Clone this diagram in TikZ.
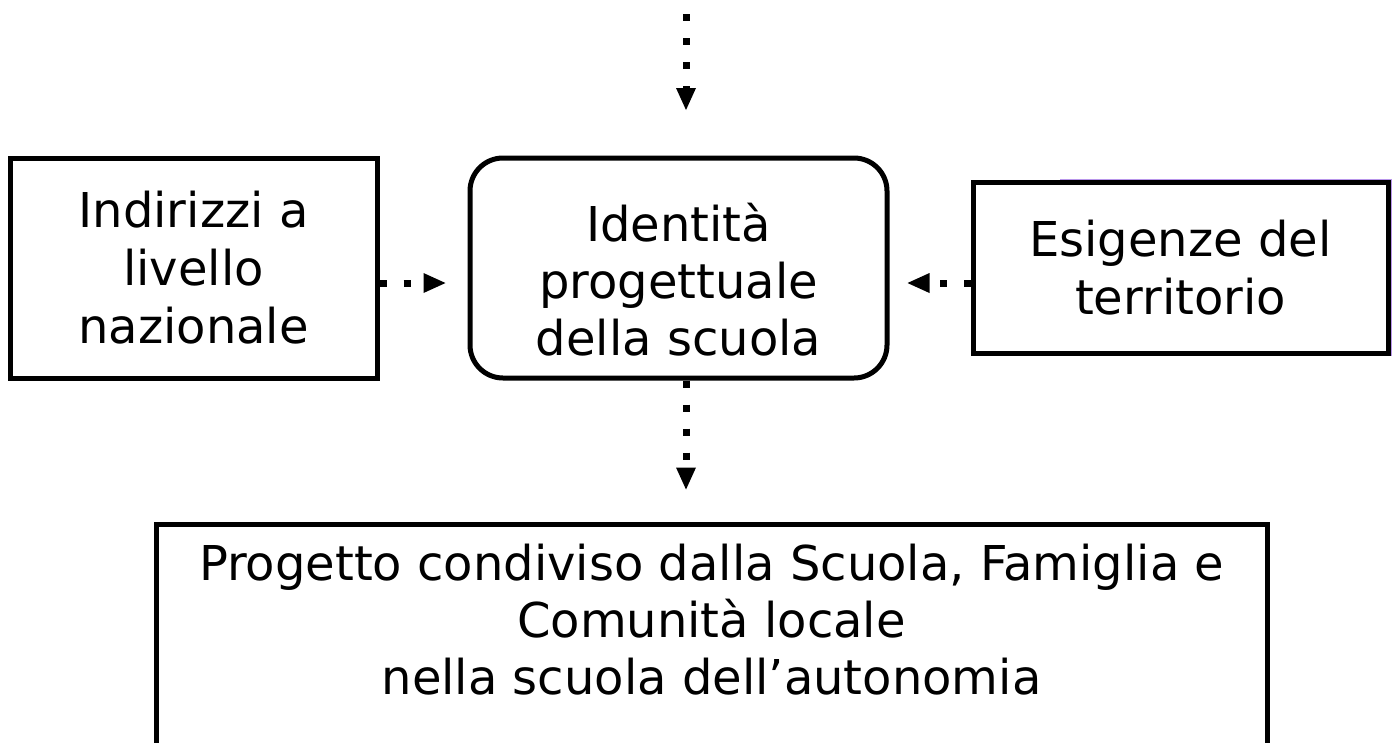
\documentclass[tikz,border=0pt]{standalone}
\usepackage{fontspec}
\setmainfont{DejaVu Sans}
\usetikzlibrary{arrows.meta,calc}
\tikzset{
  box/.style={draw=black, line width=5pt, inner sep=0pt, align=center,
    font=\fontsize{48}{58}\selectfont},
  txt/.style={inner sep=0pt, align=center, font=\fontsize{48}{57}\selectfont},
  dotarrow/.style={line width=7pt, dash pattern=on 7pt off 17pt,
    -{Triangle[length=22pt,width=20pt,line width=0pt]}}
}
\begin{document}
\begin{tikzpicture}[x=1pt,y=-1pt]
\clip (0,0) rectangle (1395,742);
\fill[white] (0,0) rectangle (1395,742);
\coordinate (ax) at (686,0);
\coordinate (top) at (686,14);
\node[box, minimum width=367pt, minimum height=220pt] (lbox) at (193.5,268)
  {Indirizzi a\\livello\\nazionale};
\node[box, rounded corners=33pt, minimum width=417pt, minimum height=220pt] (cbox) at (678.5,268) {};
\node[txt] (ctext) at (678.5,280) {Identità\\progettuale\\della scuola};
\draw[draw={rgb,255:red,185;green,150;blue,235}, line width=2pt]
  (1060,180) -- (1391,180) -- (1391,356);
\node[box, minimum width=415pt, minimum height=171pt] (rbox) at (1180.5,267.5)
  {Esigenze del\\territorio};
\node[draw=black, line width=5pt, minimum width=1111pt, minimum height=276pt] (bbox) at (711.5,662) {};
\node[txt] (btext) at (711.5,620) {Progetto condiviso dalla Scuola, Famiglia e\\Comunità locale\\nella scuola dell’autonomia};
\draw[dotarrow] (top) -- (686,110);
\draw[dotarrow] (cbox.south -| ax) -- ($(bbox.north -| ax)+(0,-32)$);
\draw[dotarrow] ([yshift=-15pt]lbox.east) -- ([xshift=-22pt,yshift=-15pt]cbox.west);
\draw[dotarrow] ([yshift=-15.5pt]rbox.west) -- ([xshift=18pt,yshift=-15pt]cbox.east);
\end{tikzpicture}
\end{document}
